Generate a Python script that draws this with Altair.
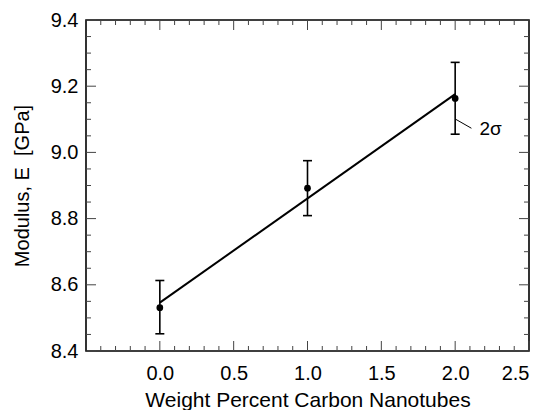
import altair as alt
import pandas as pd

# ---- data ----
wt_percent = [0.0, 1.0, 2.0]
modulus = [8.531, 8.892, 9.163]
err_low = [8.452, 8.809, 9.055]
err_high = [8.613, 8.975, 9.272]

fit_x = [0.0, 2.0]
fit_y = [8.546, 9.176]

x_major = [0.0, 0.5, 1.0, 1.5, 2.0, 2.5]
x_minor = [-0.4, -0.3, -0.2, -0.1, 0.1, 0.2, 0.3, 0.4, 0.6, 0.7, 0.8, 0.9,
           1.1, 1.2, 1.3, 1.4, 1.6, 1.7, 1.8, 1.9, 2.1, 2.2, 2.3, 2.4]
y_major = [8.4, 8.6, 8.8, 9.0, 9.2, 9.4]
y_minor = [8.45, 8.5, 8.55, 8.65, 8.7, 8.75, 8.85, 8.9, 8.95,
           9.05, 9.1, 9.15, 9.25, 9.3, 9.35]

ann_x = [2.004, 2.11]
ann_y = [9.100, 9.073]
ann_text = ["2σ"]
ann_text_x = [2.165]
ann_text_y = [9.071]

W, H = 443, 331
FONT = "Liberation Sans"

xs = alt.Scale(domain=[-0.5, 2.5], nice=False, zero=False)
ys = alt.Scale(domain=[8.4, 9.4], nice=False, zero=False)

x_axis = alt.Axis(values=x_major, format=".1f", ticks=False, domain=False, grid=False,
                  labelFontSize=20, labelPadding=12, labelColor="black",
                  title="Weight Percent Carbon Nanotubes", titleFontSize=21,
                  titleFontWeight="normal", titlePadding=6, titleColor="black")
y_axis = alt.Axis(values=y_major, format=".1f", ticks=False, domain=False, grid=False,
                  labelFontSize=20, labelPadding=8, labelColor="black",
                  title="Modulus, E\u00a0\u00a0[GPa]", titleFontSize=20,
                  titleFontWeight="normal", titlePadding=18, titleColor="black")


def X(field):
    return alt.X(field, type="quantitative", scale=xs, axis=x_axis)


def Y(field):
    return alt.Y(field, type="quantitative", scale=ys, axis=y_axis)


pts = pd.DataFrame({"wt": wt_percent, "mod": modulus, "lo": err_low, "hi": err_high})
fit = pd.DataFrame({"wt": fit_x, "mod": fit_y})
xmaj = pd.DataFrame({"v": x_major})
xmin = pd.DataFrame({"v": x_minor})
ymaj = pd.DataFrame({"v": y_major})
ymin = pd.DataFrame({"v": y_minor})
ann = pd.DataFrame({"x": [ann_x[0]], "x2": [ann_x[1]], "y": [ann_y[0]], "y2": [ann_y[1]]})
anntext = pd.DataFrame({"x": ann_text_x, "y": ann_text_y, "t": ann_text})

TC = "#444444"
layers = []
# tick marks (inward, all four sides)
for df, ln in [(xmaj, 10), (xmin, 5)]:
    layers.append(alt.Chart(df).mark_rule(color=TC, strokeWidth=1).encode(
        x=X("v"), y=alt.value(H), y2=alt.value(H - ln)))
    layers.append(alt.Chart(df).mark_rule(color=TC, strokeWidth=1).encode(
        x=X("v"), y=alt.value(0), y2=alt.value(ln)))
for df, ln in [(ymaj, 10), (ymin, 5)]:
    layers.append(alt.Chart(df).mark_rule(color=TC, strokeWidth=1).encode(
        y=Y("v"), x=alt.value(0), x2=alt.value(ln)))
    layers.append(alt.Chart(df).mark_rule(color=TC, strokeWidth=1).encode(
        y=Y("v"), x=alt.value(W), x2=alt.value(W - ln)))

# fit line
layers.append(alt.Chart(fit).mark_line(color="black", strokeWidth=2).encode(
    x=X("wt"), y=Y("mod")))
# error bars
layers.append(alt.Chart(pts).mark_rule(color="black", strokeWidth=1.6).encode(
    x=X("wt"), y=Y("lo"), y2="hi"))
layers.append(alt.Chart(pts).mark_tick(color="black", orient="horizontal", size=9,
                                       thickness=1.6, opacity=1).encode(x=X("wt"), y=Y("lo")))
layers.append(alt.Chart(pts).mark_tick(color="black", orient="horizontal", size=9,
                                       thickness=1.6, opacity=1).encode(x=X("wt"), y=Y("hi")))
# points
layers.append(alt.Chart(pts).mark_circle(color="black", size=45, opacity=1).encode(
    x=X("wt"), y=Y("mod")))
# annotation
layers.append(alt.Chart(ann).mark_rule(color="black", strokeWidth=1).encode(
    x=X("x"), x2="x2", y=Y("y"), y2="y2"))
layers.append(alt.Chart(anntext).mark_text(font=FONT, fontSize=19, align="left",
                                           baseline="middle", color="black").encode(
    x=X("x"), y=Y("y"), text="t"))

chart = alt.layer(*layers).properties(
    width=W, height=H,
    autosize=alt.AutoSizeParams(type="none"),
    padding={"left": 86, "top": 20, "right": 16, "bottom": 59},
    background="white",
).configure(font=FONT).configure_view(stroke="black", strokeWidth=1.6)

chart.save("out.html", embed_options={"renderer": "svg", "actions": False})
